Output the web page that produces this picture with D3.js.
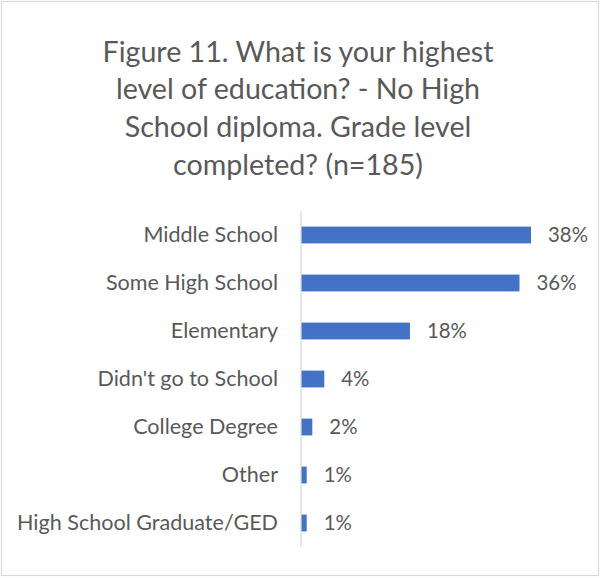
<!DOCTYPE html>
<html>
<head>
<meta charset="utf-8">
<script src="https://cdn.jsdelivr.net/npm/d3@7"></script>
<style>
  html, body { margin: 0; padding: 0; background: #fff; }
  svg { display: block; }
</style>
</head>
<body>
<svg id="chart" width="602" height="578"></svg>
<script>
const titleLines = [
  "Figure 11. What is your highest",
  "level of education? - No High",
  "School diploma. Grade level",
  "completed? (n=185)"
];
const categories = [
  "Middle School",
  "Some High School",
  "Elementary",
  "Didn't go to School",
  "College Degree",
  "Other",
  "High School Graduate/GED"
];
const values = [38.0, 36.1, 18.0, 3.85, 1.87, 0.94, 0.94];

const FONT = "Lato, 'Open Sans', 'Noto Sans', sans-serif";
const TEXT = "#595959";
const BAR = "#4472C4";
const GRID = "#d9d9d9";

const svg = d3.select("#chart");

// fit a font size so that a sample string gets a target width
function fitSize(sample, target) {
  const t = svg.append("text").attr("font-family", FONT).attr("font-size", 100).text(sample);
  const w = t.node().getComputedTextLength();
  t.remove();
  return 100 * target / w;
}
const titleSize = fitSize(titleLines[0], 391);
const catSize = fitSize(categories[6], 261);
const valSize = fitSize("38%", 40);

// border
svg.append("rect")
  .attr("x", 1.5).attr("y", 1.5)
  .attr("width", 597).attr("height", 574)
  .attr("fill", "#fff").attr("stroke", GRID).attr("stroke-width", 1.2);

// title
svg.append("text")
  .attr("font-family", FONT).attr("font-size", titleSize).attr("fill", TEXT)
  .attr("text-anchor", "middle")
  .selectAll("tspan").data(titleLines).join("tspan")
  .attr("x", 298).attr("y", (d, i) => 61.5 + i * 37.7)
  .text(d => d);

const y = d3.scaleBand().domain(categories).range([211, 547]).paddingInner(0.65).paddingOuter(0.325);
const x = d3.scaleLinear().domain([0, 38]).range([301, 531]);

// bars
svg.append("g").selectAll("rect").data(categories).join("rect")
  .attr("x", x(0))
  .attr("y", d => y(d))
  .attr("width", (d, i) => x(values[i]) - x(0))
  .attr("height", y.bandwidth())
  .attr("fill", BAR);

// axis
const yAxis = d3.axisLeft(y).tickSize(0).tickPadding(23);
const ag = svg.append("g").attr("transform", `translate(${x(0)},0)`).call(yAxis);
ag.select(".domain").attr("stroke", GRID).attr("stroke-width", 1.3)
  .attr("d", `M0,211V547`);
ag.selectAll(".tick text")
  .attr("font-family", FONT).attr("font-size", catSize).attr("fill", TEXT);

// value labels
svg.append("g").selectAll("text").data(categories).join("text")
  .attr("x", (d, i) => x(values[i]) + 17)
  .attr("y", d => y(d) + y.bandwidth() / 2)
  .attr("dy", "0.35em")
  .attr("font-family", FONT).attr("font-size", valSize).attr("fill", TEXT)
  .text((d, i) => d3.format(".0f")(values[i]) + "%");
</script>
</body>
</html>
